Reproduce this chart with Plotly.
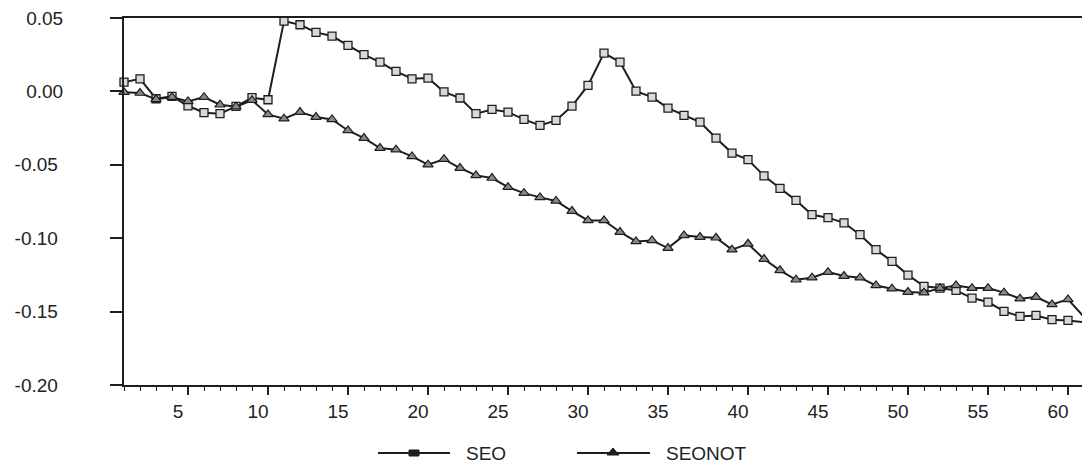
import plotly.graph_objects as go

# ---- data ----
periods = list(range(1, 62))
seo = [0.0063, 0.0086, -0.0050, -0.0034, -0.0098, -0.0145, -0.0152, -0.0102, -0.0043, -0.0057,
       0.0479, 0.0454, 0.0402, 0.0377, 0.0313, 0.0250, 0.0200, 0.0136, 0.0086, 0.0091,
       -0.0003, -0.0045, -0.0152, -0.0123, -0.0141, -0.0191, -0.0232, -0.0198, -0.0100, 0.0041,
       0.0261, 0.0200, 0.0002, -0.0039, -0.0114, -0.0163, -0.0209, -0.0318, -0.0420, -0.0465,
       -0.0575, -0.0660, -0.0742, -0.0840, -0.0860, -0.0895, -0.0976, -0.1078, -0.1158, -0.1251,
       -0.1328, -0.1340, -0.1356, -0.1408, -0.1435, -0.1499, -0.1533, -0.1526, -0.1555, -0.1560,
       -0.1572]
seonot = [-0.0005, -0.0011, -0.0054, -0.0039, -0.0068, -0.0039, -0.0091, -0.0104, -0.0060, -0.0157,
          -0.0186, -0.0141, -0.0175, -0.0191, -0.0266, -0.0318, -0.0386, -0.0397, -0.0443, -0.0499,
          -0.0462, -0.0522, -0.0572, -0.0590, -0.0652, -0.0693, -0.0722, -0.0746, -0.0815, -0.0879,
          -0.0879, -0.0958, -0.1022, -0.1015, -0.1067, -0.0981, -0.0992, -0.0997, -0.1078, -0.1038,
          -0.1142, -0.1219, -0.1283, -0.1269, -0.1231, -0.1258, -0.1269, -0.1322, -0.1344, -0.1367,
          -0.1371, -0.1340, -0.1322, -0.1340, -0.1340, -0.1371, -0.1412, -0.1401, -0.1451, -0.1417,
          -0.1537]
y_tickvals = [0.05, 0.00, -0.05, -0.10, -0.15, -0.20]
y_ticktext = ["0.05", "0.00", "-0.05\u00a0", "-0.10\u00a0", "-0.15\u00a0", "-0.20\u00a0"]
series_names = ["SEO", "SEONOT"]

# ---- layout geometry ----
W, H = 1082, 468
ML, MR, MT, MB = 124, 0, 18, 83
PW, PH = W - ML - MR, H - MT - MB
INK = "#1e1e1e"
FONT = dict(family="Liberation Sans, Arial, sans-serif", size=19, color="#222222")


def px2paper(x, y):
    return (x - ML) / PW, (H - MB - y) / PH


fig = go.Figure()
fig.add_trace(go.Scatter(
    x=periods, y=seo, name=series_names[0], mode="lines+markers",
    line=dict(color=INK, width=2),
    marker=dict(symbol="square", size=8, color="#d9d9d9", line=dict(color=INK, width=1.3)),
    cliponaxis=False, showlegend=False))
fig.add_trace(go.Scatter(
    x=periods, y=seonot, name=series_names[1], mode="lines+markers",
    line=dict(color=INK, width=2),
    marker=dict(symbol="triangle-up", size=9, color="#8a8a8a", line=dict(color=INK, width=1.2)),
    cliponaxis=False, showlegend=False))

# ---- hand-drawn legend (decoration) ----
shapes = []
annotations = []
legend_items = [
    (series_names[0], 378, 450, 414, "square"),
    (series_names[1], 577, 650, 613, "triangle"),
]
ly = 453
for name, x0, x1, xm, sym in legend_items:
    a0, b0 = px2paper(x0, ly)
    a1, _ = px2paper(x1, ly)
    shapes.append(dict(type="line", xref="paper", yref="paper", x0=a0, x1=a1, y0=b0, y1=b0,
                       line=dict(color=INK, width=2)))
    if sym == "square":
        p0 = px2paper(xm - 5, ly - 3)
        p1 = px2paper(xm + 5, ly + 3)
        shapes.append(dict(type="rect", xref="paper", yref="paper", x0=p0[0], x1=p1[0],
                           y0=p1[1], y1=p0[1], fillcolor=INK, line=dict(color=INK, width=1)))
    else:
        t1 = px2paper(xm - 6, ly + 2)
        t2 = px2paper(xm + 6, ly + 2)
        t3 = px2paper(xm, ly - 5)
        shapes.append(dict(type="path", xref="paper", yref="paper",
                           path=f"M{t1[0]},{t1[1]} L{t2[0]},{t2[1]} L{t3[0]},{t3[1]} Z",
                           fillcolor=INK, line=dict(color=INK, width=1)))
    tx, ty = px2paper(x1 + 14, ly)
    annotations.append(dict(text=name, xref="paper", yref="paper", x=tx, y=ty,
                            xanchor="left", yanchor="middle", showarrow=False, font=FONT))

fig.update_layout(
    width=W, height=H,
    margin=dict(l=ML, r=MR, t=MT, b=MB),
    paper_bgcolor="white", plot_bgcolor="white",
    font=FONT,
    shapes=shapes, annotations=annotations,
    showlegend=False,
)
fig.update_xaxes(
    range=[1, 1 + PW / 16.0],
    showgrid=False, zeroline=False,
    showline=True, linecolor=INK, linewidth=2, mirror=True,
    ticks="outside", ticklen=8, tickwidth=1.5, tickcolor=INK,
    tick0=0, dtick=5, ticklabelshift=-10,
    minor=dict(ticks="outside", dtick=1, ticklen=4, tickwidth=1.2, tickcolor=INK),
    tickfont=FONT,
)
fig.update_yaxes(
    range=[-0.20, 0.05],
    showgrid=False, zeroline=False,
    showline=True, linecolor=INK, linewidth=2, mirror=False,
    ticks="outside", ticklen=12, tickwidth=1.5, tickcolor=INK,
    tickvals=y_tickvals, ticktext=y_ticktext,
    ticklabelstandoff=43,
    tickfont=FONT,
)

fig.write_html(
    "out.html",
    config={"displayModeBar": False},
    post_script="document.body.style.margin='0px';document.body.style.overflow='hidden';",
)
